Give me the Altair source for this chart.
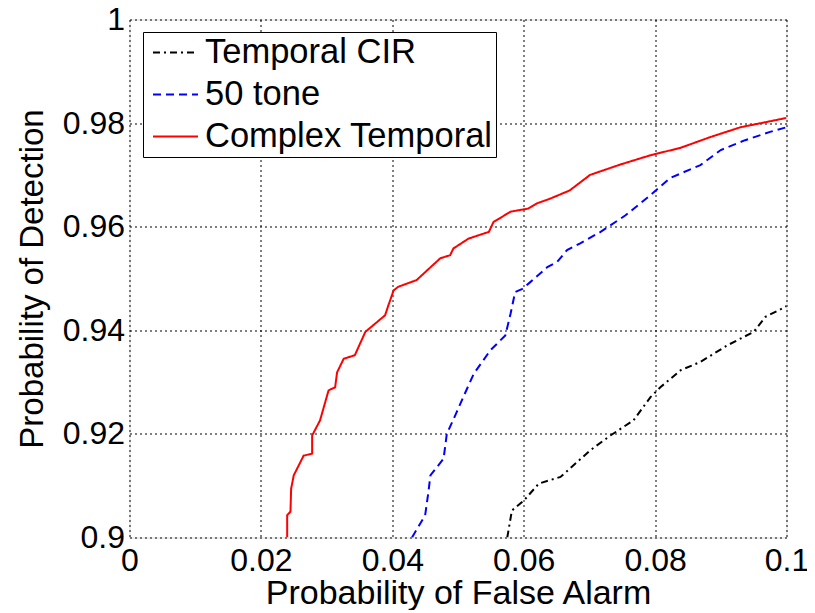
import altair as alt
import pandas as pd

series_names = ["Temporal CIR", "50 tone", "Complex Temporal"]
series_colors = ["#000000", "#0000FF", "#FF0000"]

cir_x = [0.0575, 0.0582, 0.0600, 0.0623, 0.0656, 0.0701, 0.0732, 0.0767, 0.0793, 0.0808,
         0.0839, 0.0869, 0.0910, 0.0950, 0.0968, 0.0998, 0.1000]
cir_y = [0.9000, 0.9052, 0.9071, 0.9104, 0.9117, 0.9168, 0.9197, 0.9226, 0.9271, 0.9290,
         0.9323, 0.9339, 0.9371, 0.9397, 0.9426, 0.9445, 0.9447]

tone_x = [0.0430, 0.0450, 0.0455, 0.0458, 0.0478, 0.0483, 0.0498, 0.0508, 0.0524, 0.0549,
          0.0572, 0.0580, 0.0587, 0.0598, 0.0610, 0.0636, 0.0651, 0.0666, 0.0686, 0.0717,
          0.0755, 0.0793, 0.0823, 0.0869, 0.0900, 0.0937, 0.0975, 0.1000]
tone_y = [0.9000, 0.9043, 0.9088, 0.9120, 0.9152, 0.9200, 0.9242, 0.9271, 0.9316, 0.9361,
          0.9390, 0.9432, 0.9474, 0.9480, 0.9493, 0.9522, 0.9532, 0.9555, 0.9568, 0.9590,
          0.9622, 0.9661, 0.9694, 0.9719, 0.9748, 0.9767, 0.9783, 0.9792]

cplx_x = [0.0240, 0.0240, 0.0245, 0.0246, 0.0250, 0.0265, 0.0278, 0.0278, 0.0290, 0.0303,
          0.0313, 0.0316, 0.0326, 0.0343, 0.0359, 0.0389, 0.0394, 0.0402, 0.0409, 0.0437,
          0.0473, 0.0488, 0.0493, 0.0516, 0.0547, 0.0554, 0.0580, 0.0607, 0.0620, 0.0640,
          0.0670, 0.0701, 0.0747, 0.0793, 0.0838, 0.0884, 0.0930, 0.1000]
cplx_y = [0.9000, 0.9043, 0.9050, 0.9094, 0.9120, 0.9158, 0.9162, 0.9197, 0.9226, 0.9284,
          0.9290, 0.9319, 0.9345, 0.9352, 0.9397, 0.9429, 0.9448, 0.9477, 0.9484, 0.9497,
          0.9539, 0.9545, 0.9558, 0.9577, 0.9590, 0.9609, 0.9629, 0.9635, 0.9645, 0.9654,
          0.9670, 0.9700, 0.9720, 0.9738, 0.9752, 0.9773, 0.9792, 0.9810]

x_ticks = [0, 0.02, 0.04, 0.06, 0.08, 0.1]
y_ticks = [0.9, 0.92, 0.94, 0.96, 0.98, 1.0]

rows = []
for name, xs, ys in zip(series_names, [cir_x, tone_x, cplx_x], [cir_y, tone_y, cplx_y]):
    for i, (xv, yv) in enumerate(zip(xs, ys)):
        rows.append({"series": name, "x": xv, "y": yv, "i": i})
df = pd.DataFrame(rows)

FONT = "Liberation Sans"


def make_legend():
    return alt.Legend(title=None, orient="none", legendX=13.5, legendY=12.5,
                      symbolType="stroke", symbolSize=2025, symbolStrokeWidth=2,
                      clipHeight=35, symbolOffset=6,
                      labelFontSize=34.5, labelFont=FONT, labelColor="black",
                      fillColor="white", strokeColor="black", padding=3,
                      rowPadding=6, labelOffset=6, labelLimit=500)


chart = alt.Chart(df).mark_line(clip=True, strokeWidth=2).encode(
    x=alt.X("x:Q", scale=alt.Scale(domain=[0, 0.1], nice=False),
            axis=alt.Axis(values=x_ticks, format=".2~f", title="Probability of False Alarm",
                          labelFontSize=32, titleFontSize=34, labelFont=FONT, titleFont=FONT,
                          titleFontWeight="normal", labelColor="black", titleColor="black",
                          grid=True, gridColor="black", gridDash=[2, 3], gridOpacity=1,
                          domain=False, ticks=False, labelPadding=8,
                          titleBaseline="alphabetic", titleY=66,
                          labelFlush=False)),
    y=alt.Y("y:Q", scale=alt.Scale(domain=[0.9, 1.0], nice=False),
            axis=alt.Axis(values=y_ticks, format=".2~f", title="Probability of Detection",
                          labelFontSize=32, titleFontSize=33, labelFont=FONT, titleFont=FONT,
                          titleFontWeight="normal", labelColor="black", titleColor="black",
                          grid=True, gridColor="black", gridDash=[2, 3], gridOpacity=1,
                          domain=False, ticks=False, labelPadding=5,
                          titleBaseline="alphabetic", titleX=-87,
                          labelFlush=False)),
    color=alt.Color("series:N",
                    scale=alt.Scale(domain=series_names, range=series_colors),
                    legend=make_legend()),
    strokeDash=alt.StrokeDash("series:N",
                              scale=alt.Scale(domain=series_names,
                                              range=[[7, 4, 2, 4], [8, 5], [1, 0]]),
                              legend=make_legend()),
    order="i:Q",
).properties(
    width=657, height=518,
    autosize=alt.AutoSizeParams(type="none"),
    padding={"left": 121.5, "top": 11.5, "right": 20, "bottom": 72},
).configure_view(stroke="black", strokeWidth=1.5).configure(background="white")

chart.save("out.html", embed_options={"renderer": "svg", "actions": False})
